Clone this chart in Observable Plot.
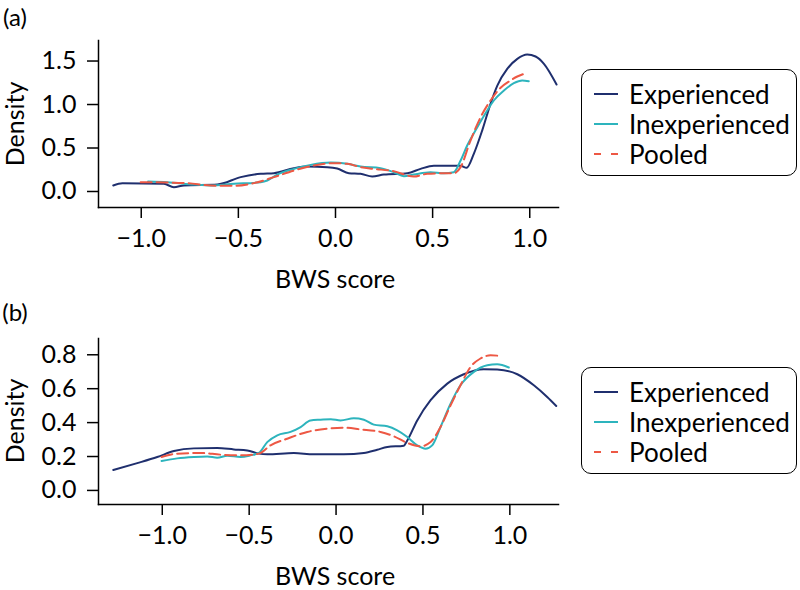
<!DOCTYPE html>
<html>
<head>
<meta charset="utf-8">
<script src="https://cdn.jsdelivr.net/npm/d3@7"></script>
<script src="https://cdn.jsdelivr.net/npm/@observablehq/plot@0.6"></script>
<style>
  html, body { margin: 0; padding: 0; background: white; }
  #wrap { position: relative; width: 800px; height: 590px; font-family: Lato, sans-serif; color: #000; overflow: hidden; }
  .panel { position: absolute; left: 0; }
  .legend { position: absolute; left: 581px; width: 214px; height: 105px; border: 1.5px solid #000; border-radius: 10px; box-sizing: content-box; background: white; }
  .row { position: absolute; left: 0; height: 30px; width: 214px; }
  .row svg { position: absolute; left: 11px; top: 9px; }
  .row .lb { position: absolute; left: 47px; top: 0; font-size: 26px; line-height: 30px; white-space: nowrap; }
  .lbl { position: absolute; white-space: nowrap; line-height: 1; transform: translate(-50%, -50%); }
  .lbl.rot { transform: translate(-50%, -50%) rotate(-90deg); }
</style>
</head>
<body>
<div id="wrap"></div>
<script>
// ---- data ----
const seriesNames = ["Experienced", "Inexperienced", "Pooled"];
const seriesColors = ["#1f2f6e", "#2db4bd", "#ed5844"];
const xTicks = [-1.0, -0.5, 0.0, 0.5, 1.0];
const yTicksA = [0.0, 0.5, 1.0, 1.5];
const yTicksB = [0.0, 0.2, 0.4, 0.6, 0.8];
const xLabel = "BWS score";
const yLabel = "Density";

// Panel (a)
const aExperienced = [[-1.144,0.069],[-1.097,0.095],[-0.883,0.088],[-0.832,0.05],[-0.780,0.07],[-0.608,0.08],[-0.488,0.165],[-0.385,0.203],[-0.317,0.21],[-0.214,0.268],[-0.145,0.287],[-0.042,0.28],[0.009,0.264],[0.069,0.21],[0.129,0.203],[0.189,0.172],[0.249,0.195],[0.37,0.21],[0.438,0.26],[0.506,0.295],[0.644,0.295],[0.675,0.272],[0.712,0.433],[0.755,0.70],[0.798,1.008],[0.833,1.218],[0.884,1.41],[0.936,1.525],[0.987,1.575],[1.03,1.552],[1.073,1.468],[1.138,1.23]];
const aInexperienced = [[-0.965,0.115],[-0.866,0.107],[-0.729,0.08],[-0.643,0.069],[-0.523,0.088],[-0.385,0.107],[-0.351,0.126],[-0.30,0.195],[-0.214,0.26],[-0.128,0.306],[-0.025,0.333],[0.061,0.318],[0.129,0.287],[0.232,0.268],[0.30,0.222],[0.352,0.176],[0.403,0.195],[0.489,0.222],[0.558,0.21],[0.609,0.222],[0.644,0.356],[0.678,0.529],[0.73,0.739],[0.781,0.931],[0.815,1.046],[0.867,1.161],[0.918,1.245],[0.961,1.276],[0.995,1.268]];
const aPooled = [[-1.003,0.107],[-0.866,0.103],[-0.763,0.096],[-0.643,0.069],[-0.523,0.065],[-0.420,0.096],[-0.317,0.165],[-0.214,0.241],[-0.111,0.299],[-0.008,0.326],[0.061,0.318],[0.129,0.28],[0.198,0.26],[0.30,0.233],[0.403,0.172],[0.472,0.203],[0.558,0.21],[0.609,0.21],[0.644,0.28],[0.695,0.586],[0.747,0.854],[0.798,1.046],[0.85,1.192],[0.901,1.276],[0.936,1.322],[0.970,1.352]];

// Panel (b)
const bExperienced = [[-1.282,0.12],[-1.144,0.161],[-1.029,0.197],[-0.933,0.232],[-0.818,0.248],[-0.684,0.25],[-0.588,0.242],[-0.511,0.236],[-0.444,0.217],[-0.396,0.213],[-0.243,0.221],[-0.128,0.213],[0.045,0.213],[0.16,0.221],[0.237,0.24],[0.295,0.256],[0.39,0.264],[0.41,0.295],[0.467,0.413],[0.544,0.532],[0.64,0.63],[0.735,0.685],[0.85,0.715],[0.927,0.713],[1.043,0.685],[1.138,0.62],[1.215,0.551],[1.267,0.498]];
const bInexperienced = [[-1.004,0.173],[-0.914,0.189],[-0.818,0.197],[-0.741,0.2],[-0.684,0.193],[-0.626,0.205],[-0.549,0.197],[-0.492,0.207],[-0.444,0.221],[-0.396,0.285],[-0.338,0.325],[-0.262,0.345],[-0.204,0.374],[-0.147,0.413],[-0.089,0.417],[-0.03,0.42],[0.026,0.413],[0.102,0.425],[0.16,0.417],[0.217,0.388],[0.295,0.378],[0.352,0.354],[0.41,0.315],[0.467,0.266],[0.515,0.246],[0.553,0.266],[0.601,0.374],[0.659,0.512],[0.716,0.62],[0.793,0.699],[0.87,0.738],[0.927,0.744],[0.994,0.725]];
const bPooled = [[-1.004,0.197],[-0.914,0.217],[-0.78,0.221],[-0.665,0.211],[-0.549,0.207],[-0.444,0.217],[-0.377,0.266],[-0.281,0.305],[-0.166,0.345],[-0.051,0.364],[0.045,0.37],[0.141,0.36],[0.256,0.345],[0.333,0.319],[0.41,0.28],[0.486,0.26],[0.544,0.285],[0.601,0.374],[0.659,0.502],[0.716,0.62],[0.774,0.728],[0.831,0.778],[0.889,0.797],[0.927,0.795]];

const panels = [
  {tag: "(a)", top: 0, series: [aExperienced, aInexperienced, aPooled], yTicks: yTicksA,
   xDomain: [-1.22, 1.148], yDomain: [-0.184, 1.736], mTop: 40, mBottom: 88, legendTop: 69},
  {tag: "(b)", top: 295, series: [bExperienced, bInexperienced, bPooled], yTicks: yTicksB,
   xDomain: [-1.367, 1.280], yDomain: [-0.083, 0.896], mTop: 43, mBottom: 86, legendTop: 367}
];

const wrap = document.getElementById("wrap");
const fmt = d3.format(".1f");
const W = 800, H = 295, ML = 98, MR = 242;

function addLabel(text, x, y, size, rot) {
  const d = document.createElement("div");
  d.className = "lbl" + (rot ? " rot" : "");
  d.textContent = text;
  d.style.left = x + "px";
  d.style.top = y + "px";
  d.style.fontSize = size + "px";
  wrap.appendChild(d);
}

for (const p of panels) {
  const lineMarks = p.series.map((data, i) => Plot.line(data, {
    x: d => d[0], y: d => d[1], stroke: seriesColors[i], strokeWidth: 2,
    curve: "monotone-x", strokeDasharray: i === 2 ? "11,5" : null
  }));
  const chart = Plot.plot({
    width: W, height: H,
    marginLeft: ML, marginRight: MR, marginTop: p.mTop, marginBottom: p.mBottom,
    x: {domain: p.xDomain},
    y: {domain: p.yDomain},
    style: {fontFamily: "Lato, sans-serif", fontSize: "25px", color: "#000", background: "white", overflow: "visible"},
    marks: [
      Plot.frame({anchor: "left", strokeWidth: 1.5}),
      Plot.frame({anchor: "bottom", strokeWidth: 1.5}),
      Plot.axisX({ticks: xTicks, tickSize: 11, tickPadding: 11, tickFormat: fmt, label: null, strokeWidth: 1.5, fontSize: 25}),
      Plot.axisY({ticks: p.yTicks, tickSize: 11, tickPadding: 11, tickFormat: fmt, label: null, strokeWidth: 1.5, fontSize: 25}),
      ...lineMarks
    ]
  });
  chart.classList.add("panel");
  chart.style.top = p.top + "px";
  wrap.appendChild(chart);

  const frameTop = p.top + p.mTop, frameBottom = p.top + H - p.mBottom;
  addLabel(yLabel, 14, (frameTop + frameBottom) / 2, 25, true);
  addLabel(xLabel, 335, frameBottom + 71, 25, false);
  addLabel(p.tag, 15, p.top + 17, 24, false);

  const lg = document.createElement("div");
  lg.className = "legend";
  lg.style.top = p.legendTop + "px";
  seriesNames.forEach((name, i) => {
    const r = document.createElement("div");
    r.className = "row";
    r.style.top = (9 + i * 30) + "px";
    const ns = "http://www.w3.org/2000/svg";
    const sw = document.createElementNS(ns, "svg");
    sw.setAttribute("width", 26); sw.setAttribute("height", 12);
    const ln = document.createElementNS(ns, "line");
    ln.setAttribute("x1", 1); ln.setAttribute("x2", 25); ln.setAttribute("y1", 6); ln.setAttribute("y2", 6);
    ln.setAttribute("stroke", seriesColors[i]); ln.setAttribute("stroke-width", 2);
    if (i === 2) ln.setAttribute("stroke-dasharray", "7,10");
    sw.appendChild(ln);
    const lb = document.createElement("div");
    lb.className = "lb";
    lb.textContent = name;
    r.appendChild(sw); r.appendChild(lb);
    lg.appendChild(r);
  });
  wrap.appendChild(lg);
}
</script>
</body>
</html>
